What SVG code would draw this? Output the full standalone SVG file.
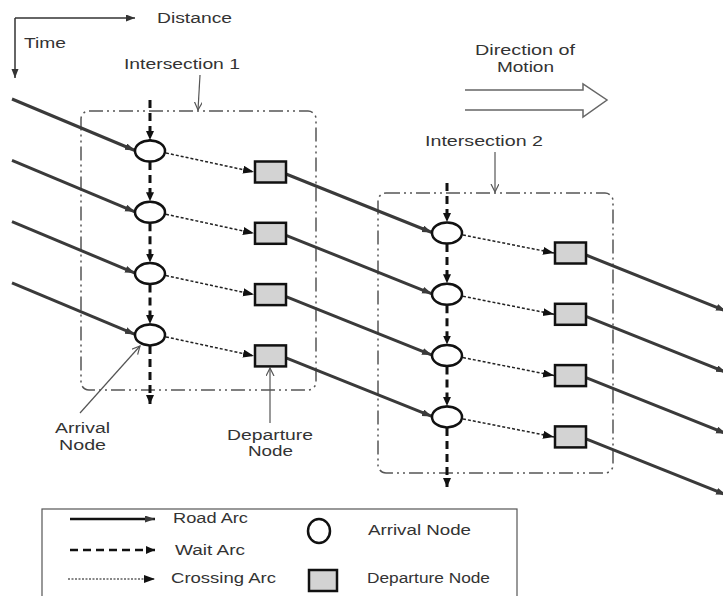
<svg xmlns="http://www.w3.org/2000/svg" width="723" height="596" viewBox="0 0 723 596">
<style>
text{font-family:"Liberation Sans",Arial,sans-serif;font-size:14px;fill:#333}
.road{stroke:#3a3a3a;stroke-width:3;fill:none;marker-end:url(#roadA)}
.wait{stroke:#111;stroke-width:3;stroke-dasharray:8 5;fill:none;marker-end:url(#waitA)}
.cross{stroke:#222;stroke-width:1.5;stroke-dasharray:3 2;fill:none;marker-end:url(#crossA)}
.ptr{stroke:#555;stroke-width:1.2;fill:none;marker-end:url(#openA)}
.axis{stroke:#333;stroke-width:1.5;fill:none;marker-end:url(#axisA)}
.box{fill:none;stroke:#555;stroke-width:1.5;stroke-dasharray:14 4 2 4 2 4}
.arr{fill:#fff;stroke:#111;stroke-width:2.5}
.dep{fill:#d3d3d3;stroke:#111;stroke-width:2.5}
</style>
<defs>
<marker id="roadA" markerUnits="userSpaceOnUse" markerWidth="11" markerHeight="8" refX="10" refY="3.5" orient="auto"><path d="M0,0 L10,3.5 L0,7 z" fill="#3a3a3a"/></marker>
<marker id="waitA" markerUnits="userSpaceOnUse" markerWidth="10" markerHeight="9" refX="9" refY="4" orient="auto"><path d="M0,0 L9,4 L0,8 z" fill="#111"/></marker>
<marker id="crossA" markerUnits="userSpaceOnUse" markerWidth="12" markerHeight="9" refX="11" refY="4" orient="auto"><path d="M0,0 L11,4 L0,8 z" fill="#111"/></marker>
<marker id="openA" markerUnits="userSpaceOnUse" markerWidth="10" markerHeight="10" refX="8" refY="4" orient="auto"><path d="M0,0 L8,4 L0,8" fill="none" stroke="#555" stroke-width="1.2"/></marker>
<marker id="axisA" markerUnits="userSpaceOnUse" markerWidth="10" markerHeight="8" refX="9" refY="3.5" orient="auto"><path d="M0,0 L9,3.5 L0,7 z" fill="#333"/></marker>
</defs>
<rect width="723" height="596" fill="#fff"/>

<g id="axes">
<line class="axis" x1="15" y1="18" x2="135" y2="18"/>
<line class="axis" x1="15" y1="18" x2="15" y2="78"/>
<text x="157" y="23" textLength="75" lengthAdjust="spacingAndGlyphs">Distance</text>
<text x="24" y="48" textLength="42" lengthAdjust="spacingAndGlyphs">Time</text>
</g>

<g id="direction">
<text x="475" y="55" textLength="100" lengthAdjust="spacingAndGlyphs">Direction of</text>
<text x="497" y="72" textLength="57" lengthAdjust="spacingAndGlyphs">Motion</text>
<polyline points="465,90 583,90 583,84 607,100 583,117 583,110 465,110" fill="none" stroke="#666" stroke-width="1.5"/>
</g>

<g id="intersection1">
<rect class="box" x="81" y="111" width="235" height="279" rx="8"/>
<text x="124" y="69" textLength="116" lengthAdjust="spacingAndGlyphs">Intersection 1</text>
</g>
<g id="intersection2">
<rect class="box" x="378" y="193" width="235" height="280" rx="8"/>
<text x="425" y="146" textLength="118" lengthAdjust="spacingAndGlyphs">Intersection 2</text>
</g>

<g id="connectors">
<!-- road arcs in -->
<line class="road" x1="12" y1="99" x2="135" y2="150.5"/>
<line class="road" x1="12" y1="160.3" x2="135" y2="211.8"/>
<line class="road" x1="12" y1="221.6" x2="135" y2="273.1"/>
<line class="road" x1="12" y1="282.9" x2="135" y2="334.4"/>
<!-- road arcs between intersections -->
<line class="road" x1="286" y1="174" x2="432" y2="232.5"/>
<line class="road" x1="286" y1="235.3" x2="432" y2="293.8"/>
<line class="road" x1="286" y1="296.6" x2="432" y2="355.1"/>
<line class="road" x1="286" y1="357.9" x2="432" y2="416.4"/>
<!-- road arcs out -->
<line class="road" x1="586" y1="255" x2="726" y2="311"/>
<line class="road" x1="586" y1="316.3" x2="726" y2="372.3"/>
<line class="road" x1="586" y1="377.6" x2="726" y2="433.6"/>
<line class="road" x1="586" y1="438.9" x2="726" y2="494.9"/>
<!-- wait arcs int1 -->
<line class="wait" x1="150" y1="100" x2="150" y2="140"/>
<line class="wait" x1="150" y1="162" x2="150" y2="201.3"/>
<line class="wait" x1="150" y1="223.3" x2="150" y2="262.6"/>
<line class="wait" x1="150" y1="284.6" x2="150" y2="323.9"/>
<line class="wait" x1="150" y1="346" x2="150" y2="404"/>
<!-- wait arcs int2 -->
<line class="wait" x1="447" y1="183" x2="447" y2="222"/>
<line class="wait" x1="447" y1="244" x2="447" y2="283.3"/>
<line class="wait" x1="447" y1="305.3" x2="447" y2="344.6"/>
<line class="wait" x1="447" y1="366.6" x2="447" y2="405.9"/>
<line class="wait" x1="447" y1="428" x2="447" y2="487"/>
<!-- crossing arcs int1 -->
<line class="cross" x1="166" y1="153" x2="254" y2="172"/>
<line class="cross" x1="166" y1="214.3" x2="254" y2="233.3"/>
<line class="cross" x1="166" y1="275.6" x2="254" y2="294.6"/>
<line class="cross" x1="166" y1="336.9" x2="254" y2="355.9"/>
<!-- crossing arcs int2 -->
<line class="cross" x1="463" y1="235" x2="554" y2="253"/>
<line class="cross" x1="463" y1="296.3" x2="554" y2="314.3"/>
<line class="cross" x1="463" y1="357.6" x2="554" y2="375.6"/>
<line class="cross" x1="463" y1="418.9" x2="554" y2="436.9"/>
<!-- pointers -->
<line class="ptr" x1="200" y1="75" x2="198" y2="110"/>
<line class="ptr" x1="495" y1="152" x2="495" y2="192"/>
<line class="ptr" x1="80" y1="413" x2="140" y2="346"/>
<line class="ptr" x1="270" y1="423" x2="270" y2="368"/>
</g>

<g id="arrival-nodes-1">
<ellipse class="arr" cx="150" cy="151" rx="15" ry="10.5"/>
<ellipse class="arr" cx="150" cy="212.3" rx="15" ry="10.5"/>
<ellipse class="arr" cx="150" cy="273.6" rx="15" ry="10.5"/>
<ellipse class="arr" cx="150" cy="334.9" rx="15" ry="10.5"/>
</g>
<g id="departure-nodes-1">
<rect class="dep" x="255" y="161.5" width="31" height="21"/>
<rect class="dep" x="255" y="222.8" width="31" height="21"/>
<rect class="dep" x="255" y="284.1" width="31" height="21"/>
<rect class="dep" x="255" y="345.4" width="31" height="21"/>
</g>
<g id="arrival-nodes-2">
<ellipse class="arr" cx="447" cy="233" rx="15" ry="10.5"/>
<ellipse class="arr" cx="447" cy="294.3" rx="15" ry="10.5"/>
<ellipse class="arr" cx="447" cy="355.6" rx="15" ry="10.5"/>
<ellipse class="arr" cx="447" cy="416.9" rx="15" ry="10.5"/>
</g>
<g id="departure-nodes-2">
<rect class="dep" x="555" y="242.5" width="31" height="21"/>
<rect class="dep" x="555" y="303.8" width="31" height="21"/>
<rect class="dep" x="555" y="365.1" width="31" height="21"/>
<rect class="dep" x="555" y="426.4" width="31" height="21"/>
</g>

<g id="labels">
<text x="55" y="433" textLength="55" lengthAdjust="spacingAndGlyphs">Arrival</text>
<text x="59" y="450" textLength="47" lengthAdjust="spacingAndGlyphs">Node</text>
<text x="227" y="440" textLength="86" lengthAdjust="spacingAndGlyphs">Departure</text>
<text x="248" y="456" textLength="45" lengthAdjust="spacingAndGlyphs">Node</text>
</g>

<g id="legend">
<rect x="42" y="509" width="475" height="95" fill="none" stroke="#555" stroke-width="1.2"/>
<line x1="70" y1="519" x2="155" y2="519" stroke="#111" stroke-width="2.5" marker-end="url(#roadA)"/>
<line x1="70" y1="550" x2="155" y2="550" stroke="#111" stroke-width="2.5" stroke-dasharray="8 5" marker-end="url(#waitA)"/>
<line x1="68" y1="579" x2="155" y2="579" stroke="#111" stroke-width="1.2" stroke-dasharray="2 1.5" marker-end="url(#crossA)"/>
<text x="173" y="523" textLength="75" lengthAdjust="spacingAndGlyphs">Road Arc</text>
<text x="175" y="555" textLength="70" lengthAdjust="spacingAndGlyphs">Wait Arc</text>
<text x="171" y="583" textLength="105" lengthAdjust="spacingAndGlyphs">Crossing Arc</text>
<ellipse cx="319" cy="531" rx="11" ry="12" fill="#fff" stroke="#111" stroke-width="2.5"/>
<rect x="309" y="570" width="28" height="21" fill="#d3d3d3" stroke="#111" stroke-width="2.5"/>
<text x="368" y="535" textLength="103" lengthAdjust="spacingAndGlyphs">Arrival Node</text>
<text x="367" y="583" textLength="123" lengthAdjust="spacingAndGlyphs">Departure Node</text>
</g>
</svg>
